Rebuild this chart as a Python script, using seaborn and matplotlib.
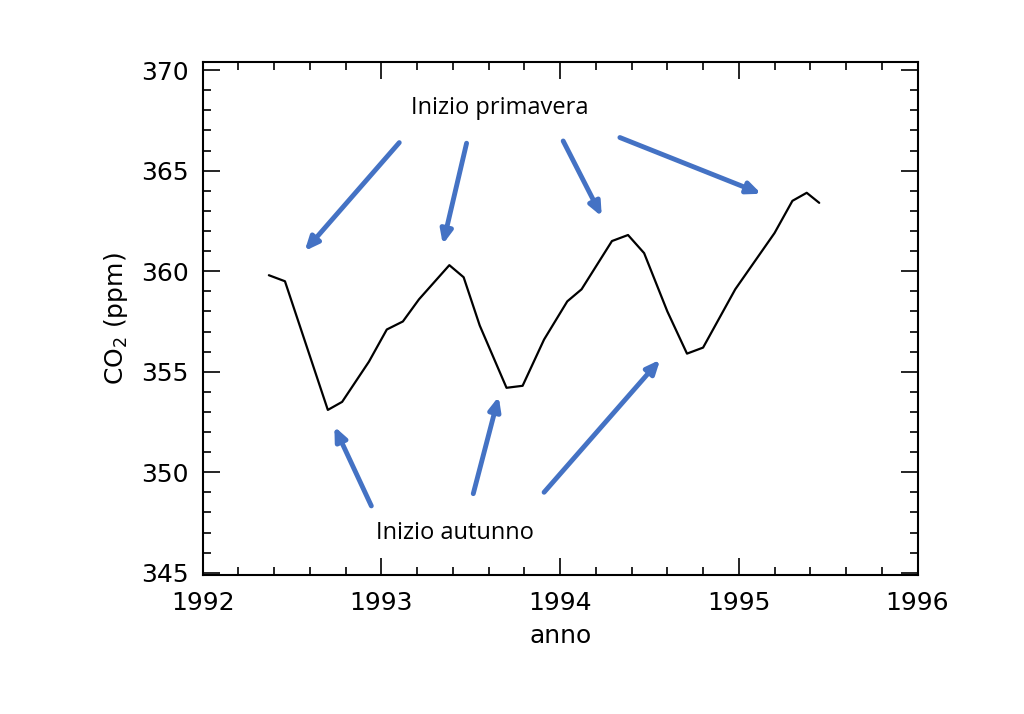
import matplotlib
matplotlib.use("Agg")
import matplotlib.pyplot as plt
import seaborn as sns
import pandas as pd
from matplotlib.ticker import MultipleLocator

anno = [1992.37, 1992.46, 1992.70, 1992.78, 1992.93, 1993.03, 1993.12, 1993.21,
        1993.38, 1993.46, 1993.55, 1993.70, 1993.79, 1993.91, 1994.04, 1994.12,
        1994.29, 1994.38, 1994.47, 1994.60, 1994.71, 1994.80, 1994.98, 1995.20,
        1995.30, 1995.38, 1995.45]
co2 = [359.8, 359.5, 353.1, 353.5, 355.5, 357.1, 357.5, 358.6,
       360.3, 359.7, 357.3, 354.2, 354.3, 356.6, 358.5, 359.1,
       361.5, 361.8, 360.9, 358.0, 355.9, 356.2, 359.1, 361.9,
       363.5, 363.9, 363.4]

# arrows: (tail x, tail y, head x, head y)
frecce_primavera = [(1993.11, 366.5, 1992.56, 360.9), (1993.48, 366.5, 1993.34, 361.2),
                    (1994.01, 366.6, 1994.24, 362.6), (1994.32, 366.7, 1995.14, 363.8)]
frecce_autunno = [(1992.95, 348.2, 1992.73, 352.4), (1993.51, 348.8, 1993.66, 353.9),
                  (1993.90, 348.9, 1994.57, 355.7)]

sns.set_style("ticks")
plt.rcParams['font.family'] = ['DejaVu Sans']
plt.rcParams['text.color'] = 'black'
plt.rcParams['axes.labelcolor'] = 'black'
plt.rcParams['xtick.color'] = 'black'
plt.rcParams['ytick.color'] = 'black'

fig = plt.figure(figsize=(10.24, 7.14), dpi=100)
ax = fig.add_axes([0.198, 0.195, 0.698, 0.718])
df = pd.DataFrame({"anno": anno, "co2": co2})
sns.lineplot(data=df, x="anno", y="co2", color="black", lw=1.6, ax=ax)

ax.set_xlim(1992, 1996)
ax.set_ylim(344.9, 370.4)
ax.xaxis.set_major_locator(MultipleLocator(1))
ax.xaxis.set_minor_locator(MultipleLocator(0.2))
ax.yaxis.set_major_locator(MultipleLocator(5))
ax.yaxis.set_minor_locator(MultipleLocator(1))
ax.tick_params(which="both", direction="in", top=True, right=True, width=1.2, labelsize=18)
ax.tick_params(which="major", length=12)
ax.tick_params(which="minor", length=6)
ax.tick_params(axis="x", pad=12)
ax.tick_params(axis="y", pad=10)
for s in ax.spines.values():
    s.set_linewidth(1.5)
    s.set_color("black")
ax.set_xlabel("anno", fontsize=18, labelpad=6)
ax.set_ylabel("CO$_2$ (ppm)", fontsize=18, labelpad=8)

blu = "#4472C4"
for x0, y0, x1, y1 in frecce_primavera + frecce_autunno:
    ax.annotate("", xy=(x1, y1), xytext=(x0, y0),
                arrowprops=dict(arrowstyle="-|>,head_length=0.8,head_width=0.35",
                                color=blu, lw=3.5))
ax.text(1993.66, 368.1, "Inizio primavera", fontsize=17, ha="center", va="center",
        family="Open Sans")
ax.text(1993.41, 347.0, "Inizio autunno", fontsize=17, ha="center", va="center",
        family="Open Sans")

fig.savefig("out.png", dpi=100)
